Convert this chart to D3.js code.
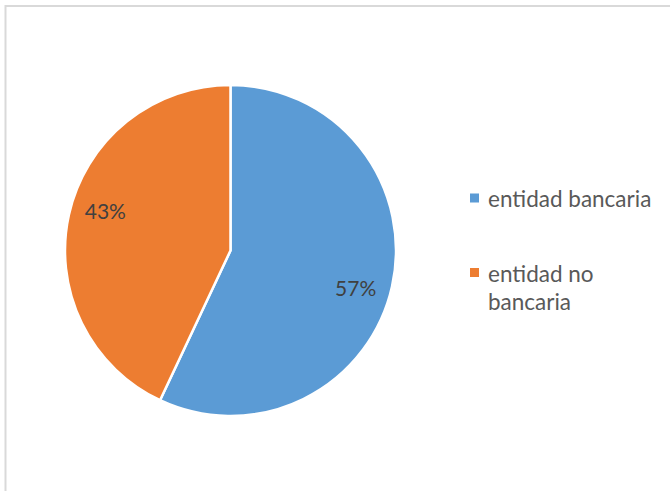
<!DOCTYPE html>
<html>
<head>
<meta charset="utf-8">
<script src="https://cdn.jsdelivr.net/npm/d3@7/dist/d3.min.js"></script>
<style>
  html, body { margin: 0; padding: 0; background: #fff; }
  svg { display: block; }
</style>
</head>
<body>
<svg id="chart" width="670" height="491"></svg>
<script>
// Share of respondents by type of entity
const categories = ["entidad bancaria", "entidad no bancaria"];
const shares = [57, 43];
const sliceColors = ["#5B9BD5", "#ED7D31"];
// Legend text, broken into lines as it wraps
const legendLines = [["entidad bancaria"], ["entidad no", "bancaria"]];

const W = 670, H = 491;
const svg = d3.select("#chart");
const FONT = "Lato, 'Open Sans', sans-serif";

// Chart area frame (runs off the right and bottom edges)
svg.append("rect")
  .attr("x", 5.5).attr("y", 6)
  .attr("width", W + 20).attr("height", H + 20)
  .attr("fill", "#fff")
  .attr("stroke", "#d9d9d9")
  .attr("stroke-width", 2);

const cx = 230.5, cy = 250.5, R = 165.5;

const pie = d3.pie().sort(null).value(d => d);
const arcs = pie(shares);

const arc = d3.arc().innerRadius(0).outerRadius(R);

const g = svg.append("g").attr("transform", `translate(${cx},${cy})`);

g.selectAll("path.slice")
  .data(arcs)
  .join("path")
  .attr("class", "slice")
  .attr("d", arc)
  .attr("fill", (d, i) => sliceColors[i])
  .attr("stroke", "#fff")
  .attr("stroke-width", 2.5)
  .attr("stroke-linejoin", "round");

// Data labels placed inside each slice
const labelR = 131;
const labelShift = 4.5 * Math.PI / 180;
g.selectAll("text.label")
  .data(arcs)
  .join("text")
  .attr("class", "label")
  .attr("x", d => labelR * Math.sin((d.startAngle + d.endAngle) / 2 + labelShift))
  .attr("y", d => -labelR * Math.cos((d.startAngle + d.endAngle) / 2 + labelShift))
  .attr("dy", "0.35em")
  .attr("text-anchor", "middle")
  .attr("font-family", FONT)
  .attr("font-size", 21)
  .attr("fill", "#404040")
  .text(d => d.data + "%");

// Legend
const legend = svg.append("g");
const legendX = 470, legendY0 = 193.5, legendStep = 74.5, lineH = 28;
categories.forEach((c, i) => {
  const y = legendY0 + i * legendStep;
  legend.append("rect")
    .attr("x", legendX).attr("y", y)
    .attr("width", 9).attr("height", 9)
    .attr("fill", sliceColors[i]);
  legendLines[i].forEach((line, j) => {
    legend.append("text")
      .attr("x", legendX + 18)
      .attr("y", y + 13.5 + j * lineH)
      .attr("font-family", FONT)
      .attr("font-size", 22.5)
      .attr("fill", "#595959")
      .text(line);
  });
});
</script>
</body>
</html>
